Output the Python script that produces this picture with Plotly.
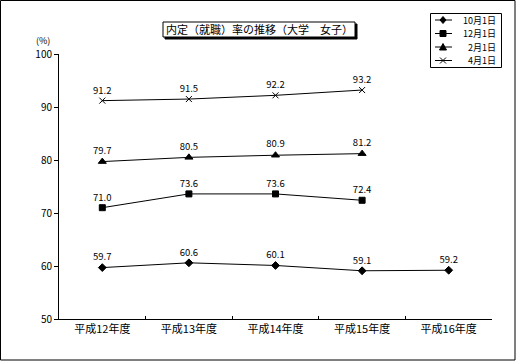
import plotly.graph_objects as go

categories = ["平成12年度", "平成13年度", "平成14年度", "平成15年度", "平成16年度"]
oct1 = [59.7, 60.6, 60.1, 59.1, 59.2]
dec1 = [71.0, 73.6, 73.6, 72.4, None]
feb1 = [79.7, 80.5, 80.9, 81.2, None]
apr1 = [91.2, 91.5, 92.2, 93.2, None]
series_names = ["10月1日", "12月1日", "2月1日", "4月1日"]
title_text = "内定（就職）率の推移（大学　女子）"

FONT = "Noto Sans CJK JP"
W, H = 516, 361
L, R, T, B = 59, 24, 54, 42
PW, PH = W - L - R, H - T - B

def px(x):
    return (x - L) / PW

def py(y):
    return (H - B - y) / PH

fig = go.Figure()
symbols = ["diamond", "square", "triangle-up", "x-thin"]
sizes = [6, 6, 7, 6]
for name, vals, sym, sz in zip(series_names, [oct1, dec1, feb1, apr1], symbols, sizes):
    fig.add_trace(go.Scatter(
        x=categories, y=vals, name=name, mode="lines+markers+text",
        text=[None if v is None else f"{v:.1f}" for v in vals],
        textposition="top center",
        textfont=dict(family=FONT, size=9.5, color="black"),
        line=dict(color="black", width=1),
        marker=dict(symbol=sym, size=sz, color="black",
                    line=dict(color="black", width=1)),
        cliponaxis=False, showlegend=False,
    ))

shapes = [
    dict(type="rect", xref="paper", yref="paper",
         x0=px(0.5), x1=px(515), y0=py(360), y1=py(0.5),
         line=dict(color="black", width=1)),
    dict(type="rect", xref="paper", yref="paper",
         x0=px(165), x1=px(357), y0=py(39), y1=py(24),
         fillcolor="black", line=dict(color="black", width=1)),
    dict(type="rect", xref="paper", yref="paper",
         x0=px(163), x1=px(355), y0=py(37), y1=py(22),
         fillcolor="white", line=dict(color="black", width=1)),
    # legend box
    dict(type="rect", xref="paper", yref="paper",
         x0=px(430.5), x1=px(501.5), y0=py(67.5), y1=py(13.5),
         fillcolor="white", line=dict(color="black", width=1)),
]
annotations = [
    dict(text=title_text, xref="paper", yref="paper", x=px(259), y=py(29.5),
         showarrow=False, font=dict(family=FONT, size=11), xanchor="center",
         yanchor="middle"),
    dict(text="(%)", xref="paper", yref="paper", x=px(43), y=py(40),
         showarrow=False, font=dict(family=FONT, size=9), xanchor="center",
         yanchor="middle"),
]

# legend rows
row_y = [20, 33.5, 47, 60.5]
mx = 443
for name, sym, yy in zip(series_names, symbols, row_y):
    shapes.append(dict(type="line", xref="paper", yref="paper",
                       x0=px(435), x1=px(452), y0=py(yy), y1=py(yy),
                       line=dict(color="black", width=1)))
    if sym == "diamond":
        path = f"M {px(mx)} {py(yy-3.5)} L {px(mx+3)} {py(yy)} L {px(mx)} {py(yy+3.5)} L {px(mx-3)} {py(yy)} Z"
        shapes.append(dict(type="path", xref="paper", yref="paper", path=path,
                           fillcolor="black", line=dict(color="black", width=1)))
    elif sym == "square":
        shapes.append(dict(type="rect", xref="paper", yref="paper",
                           x0=px(mx-3), x1=px(mx+3), y0=py(yy+3), y1=py(yy-3),
                           fillcolor="black", line=dict(color="black", width=1)))
    elif sym == "triangle-up":
        path = f"M {px(mx)} {py(yy-3.5)} L {px(mx+3.5)} {py(yy+3)} L {px(mx-3.5)} {py(yy+3)} Z"
        shapes.append(dict(type="path", xref="paper", yref="paper", path=path,
                           fillcolor="black", line=dict(color="black", width=1)))
    else:
        path = (f"M {px(mx-3)} {py(yy-3)} L {px(mx+3)} {py(yy+3)} "
                f"M {px(mx-3)} {py(yy+3)} L {px(mx+3)} {py(yy-3)}")
        shapes.append(dict(type="path", xref="paper", yref="paper", path=path,
                           line=dict(color="black", width=1)))
    annotations.append(dict(text=name, xref="paper", yref="paper", x=px(497),
                            y=py(yy), xanchor="right", yanchor="middle",
                            showarrow=False, borderpad=0,
                            font=dict(family=FONT, size=9)))

fig.update_layout(
    width=W, height=H,
    margin=dict(l=L, r=R, t=T, b=B),
    paper_bgcolor="white", plot_bgcolor="white",
    font=dict(family=FONT, size=10, color="black"),
    showlegend=False,
    xaxis=dict(
        type="category", showgrid=False, showline=True, linecolor="black",
        linewidth=1, ticks="inside", ticklen=3, tickson="boundaries",
        tickcolor="black", tickfont=dict(family=FONT, size=11),
        range=[-0.5, 4.5], zeroline=False,
    ),
    yaxis=dict(
        range=[50, 100], dtick=10, showgrid=False, showline=True,
        linecolor="black", linewidth=1, ticks="outside", ticklen=4,
        tickcolor="black", tickfont=dict(family=FONT, size=10), zeroline=False,
    ),
    shapes=shapes,
    annotations=annotations,
)

fig.write_html("out.html", config={"displayModeBar": False},
               post_script="document.body.style.margin='0px';")
